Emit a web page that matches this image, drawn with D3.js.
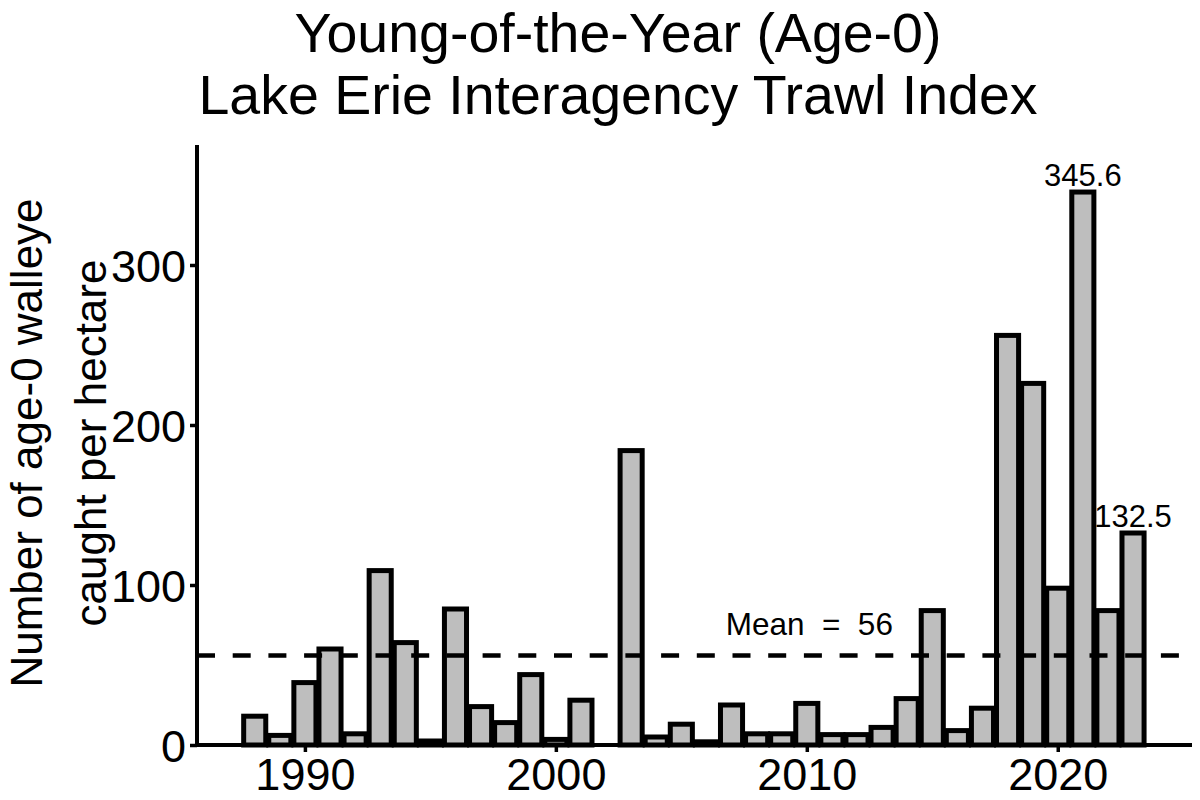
<!DOCTYPE html>
<html>
<head>
<meta charset="utf-8">
<script src="https://cdn.jsdelivr.net/npm/d3@7"></script>
<style>
  body { margin: 0; background: #fff; }
  svg { display: block; font-family: "Liberation Sans", Arial, sans-serif; }
</style>
</head>
<body>
<svg id="chart"></svg>
<script>
// Age-0 walleye per hectare, by year (2002 has no bar)
const years = [1988, 1989, 1990, 1991, 1992, 1993, 1994, 1995, 1996, 1997,
               1998, 1999, 2000, 2001, 2003, 2004, 2005, 2006, 2007, 2008,
               2009, 2010, 2011, 2012, 2013, 2014, 2015, 2016, 2017, 2018,
               2019, 2020, 2021, 2022, 2023];
const catchRate = [18, 6, 39, 60, 7, 109, 64, 2.5, 85, 24,
                   14, 44, 3.5, 28, 184, 5, 13, 2, 25, 7,
                   7, 26, 6.5, 6.5, 11, 29, 84, 9, 23, 256,
                   226, 98, 345.6, 84, 132.5];
const xTicks = [1990, 2000, 2010, 2020];
const yTicks = [0, 100, 200, 300];
const meanValue = 56;
const labelled = [2021, 2023];

const width = 1200;
const height = 800;
const plotLeft = 197, plotRight = 1192, plotTop = 145, plotBottom = 745;

const svg = d3.select("#chart")
  .attr("width", width)
  .attr("height", height);

const x = d3.scaleLinear().domain([1985.7, 2025.35]).range([plotLeft, plotRight]);
const y = d3.scaleLinear().domain([0, 375]).range([plotBottom, plotTop]);

const data = years.map((yr, i) => ({ year: yr, value: catchRate[i] }));
const barW = x(1988.88) - x(1988);

// bars
svg.selectAll(".bar")
  .data(data)
  .join("rect")
  .attr("class", "bar")
  .attr("x", (d) => x(d.year) - barW / 2)
  .attr("y", (d) => y(d.value))
  .attr("width", barW)
  .attr("height", (d) => y(0) - y(d.value))
  .attr("fill", "#bebebe")
  .attr("stroke", "#000")
  .attr("stroke-width", 5);

// mean line, drawn over the bars
svg.append("line")
  .attr("x1", plotLeft)
  .attr("x2", plotRight)
  .attr("y1", y(meanValue))
  .attr("y2", y(meanValue))
  .attr("stroke", "#000")
  .attr("stroke-width", 4.5)
  .attr("stroke-dasharray", "18,17.7");

svg.append("text")
  .attr("x", x(2010.1))
  .attr("y", y(meanValue) - 20)
  .attr("text-anchor", "middle")
  .style("font-size", "31.5px")
  .style("white-space", "pre")
  .text("Mean  =  " + meanValue);

// value labels on selected bars
svg.selectAll(".vlabel")
  .data(data.filter((d) => labelled.includes(d.year)))
  .join("text")
  .attr("class", "vlabel")
  .attr("x", (d) => x(d.year))
  .attr("y", (d) => y(d.value) - 6)
  .attr("text-anchor", "middle")
  .style("font-size", "31px")
  .text((d) => d.value.toFixed(1));

// axes
const xAxis = svg.append("g")
  .attr("transform", `translate(0,${plotBottom})`)
  .call(d3.axisBottom(x).tickValues(xTicks).tickFormat(d3.format("d")).tickSize(7).tickPadding(6));

const yAxis = svg.append("g")
  .attr("transform", `translate(${plotLeft},0)`)
  .call(d3.axisLeft(y).tickValues(yTicks).tickSize(7).tickPadding(4));

for (const ax of [xAxis, yAxis]) {
  ax.select(".domain").attr("stroke", "#000").attr("stroke-width", 4);
  ax.selectAll(".tick line").attr("stroke", "#000").attr("stroke-width", 3.5);
  ax.selectAll(".tick text")
    .attr("fill", "#000")
    .style("font-size", "45px")
    .style("font-family", "'Liberation Sans', Arial, sans-serif");
}
xAxis.select(".domain").attr("d", `M${plotLeft},0H${plotRight}`);
yAxis.select(".domain").attr("d", `M0,${plotTop}V${plotBottom}`);
yAxis.selectAll(".tick text").attr("dy", "0.36em");

// y axis title
const yTitle = svg.append("text")
  .attr("transform", `translate(0,443) rotate(-90)`)
  .attr("text-anchor", "middle")
  .style("font-size", "44px");
yTitle.append("tspan").attr("x", 0).attr("y", 42).text("Number of age-0 walleye");
yTitle.append("tspan").attr("x", 0).attr("y", 106).text("caught per hectare");

// title
svg.append("text")
  .attr("x", 618)
  .attr("y", 52)
  .attr("text-anchor", "middle")
  .style("font-size", "55.5px")
  .text("Young-of-the-Year (Age-0)");
svg.append("text")
  .attr("x", 618)
  .attr("y", 114)
  .attr("text-anchor", "middle")
  .style("font-size", "55.5px")
  .text("Lake Erie Interagency Trawl Index");
</script>
</body>
</html>
